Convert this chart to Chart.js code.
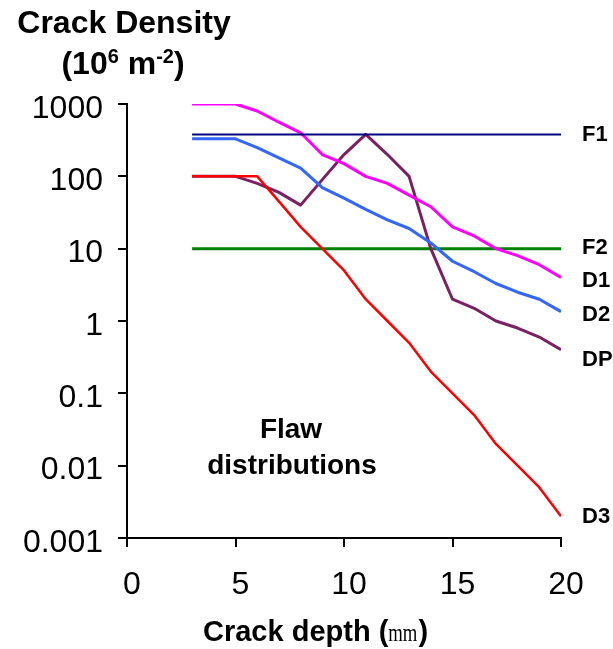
<!DOCTYPE html>
<html>
<head>
<meta charset="utf-8">
<title>Crack Density</title>
<script src="https://cdn.jsdelivr.net/npm/chart.js@4.4.1/dist/chart.umd.min.js"></script>
<style>
    html, body { margin: 0; padding: 0; background: #fff; }
    #wrap { width: 613px; height: 649px; }
</style>
</head>
<body>
<div id="wrap"><canvas id="crackChart" width="613" height="649"></canvas></div>
<script>
// Crack depth values (x) shared by all the distributions
const depths = [3, 4, 5, 6, 7, 8, 9, 10, 11, 12, 13, 14, 15, 16, 17, 18, 19, 20];

// Flaw distributions, crack density in 10^6 m^-2
const d1 = [1000, 1000, 1000, 800, 560, 400, 200, 150, 100, 80, 55, 38, 20, 15, 10, 8, 6, 4];
const d2 = [330, 330, 330, 250, 180, 130, 70, 50, 35, 25, 19, 12, 6.7, 4.8, 3.3, 2.5, 2, 1.35];
const d3 = [100, 100, 100, 100, 45, 20, 10, 5, 2, 1, 0.5, 0.2, 0.1, 0.05, 0.02, 0.01, 0.005, 0.002];
const dp = [100, 100, 100, 80, 60, 40, 90, 200, 380, 200, 100, 10, 2, 1.5, 1, 0.8, 0.6, 0.4];

// Flat reference distributions
const f1Level = 380;
const f2Level = 10;

// Axis ticks
const yTickValues = [1000, 100, 10, 1, 0.1, 0.01, 0.001];
const yTickLabels = ['1000', '100', '10', '1', '0.1', '0.01', '0.001'];
const xTickValues = [0, 5, 10, 15, 20];

const FONT = "'Liberation Sans', Arial, sans-serif";

function toPoints(values) {
    return values.map((v, i) => ({ x: depths[i], y: v }));
}

function flatLine(level) {
    return [{ x: depths[0], y: level }, { x: depths[depths.length - 1], y: level }];
}

// Draw a line of text made of pieces, some raised as superscripts
function drawRich(ctx, parts, cx, cy) {
    let total = 0;
    parts.forEach(p => {
        ctx.font = `bold ${p.size}px ${FONT}`;
        p.w = ctx.measureText(p.text).width;
        total += p.w;
    });
    let x = cx - total / 2;
    ctx.textAlign = 'left';
    ctx.textBaseline = 'alphabetic';
    parts.forEach(p => {
        ctx.font = `bold ${p.size}px ${FONT}`;
        ctx.fillText(p.text, x, cy - (p.rise || 0));
        x += p.w;
    });
}

// Titles, series names and the note, drawn straight on the canvas
const textPlugin = {
    id: 'chartTexts',
    afterDraw(chart) {
        const { ctx, scales } = chart;
        const yScale = scales.y;
        ctx.save();
        ctx.fillStyle = '#000';

        // y axis title above the axis
        ctx.font = `bold 32px ${FONT}`;
        ctx.textAlign = 'center';
        ctx.textBaseline = 'middle';
        ctx.fillText('Crack Density', 124, 24);
        drawRich(ctx, [
            { text: '(10', size: 32 },
            { text: '6', size: 20, rise: 11 },
            { text: ' m', size: 32 },
            { text: '-2', size: 20, rise: 11 },
            { text: ')', size: 32 }
        ], 123, 74);

        // x axis title, the unit is in a narrow serif face
        ctx.font = `bold 29px ${FONT}`;
        ctx.textAlign = 'left';
        ctx.textBaseline = 'alphabetic';
        const lead = 'Crack depth (';
        const leadW = ctx.measureText(lead).width;
        ctx.fillText(lead, 203, 641);
        ctx.save();
        ctx.translate(203 + leadW, 641);
        ctx.scale(0.72, 1);
        ctx.font = "26px 'Liberation Serif', serif";
        ctx.fillText('mm', 0, 0);
        const unitW = ctx.measureText('mm').width * 0.72;
        ctx.restore();
        ctx.font = `bold 29px ${FONT}`;
        ctx.fillText(')', 203 + leadW + unitW + 1, 641);

        // Note inside the plot
        ctx.textAlign = 'center';
        ctx.textBaseline = 'middle';
        ctx.font = `bold 28px ${FONT}`;
        ctx.fillText('Flaw', 291, 430);
        ctx.fillText('distributions', 292, 466);

        // Series names at the right end of each line
        ctx.font = `bold 22px ${FONT}`;
        ctx.textAlign = 'left';
        const nudge = { DP: 9, F2: -2, D1: 2, D2: 2 };
        chart.data.datasets.forEach(ds => {
            const last = ds.data[ds.data.length - 1];
            const py = yScale.getPixelForValue(last.y) + (nudge[ds.label] || 0);
            ctx.fillText(ds.label, 582, py + 1);
        });
        ctx.restore();
    }
};

const ctx = document.getElementById('crackChart').getContext('2d');

new Chart(ctx, {
    type: 'line',
    data: {
        datasets: [
            { label: 'F1', data: flatLine(f1Level), borderColor: '#000080', borderWidth: 2 },
            { label: 'D3', data: toPoints(d3), borderColor: '#FF0000', borderWidth: 2.5 },
            { label: 'D1', data: toPoints(d1), borderColor: '#FF00FF', borderWidth: 3 },
            { label: 'D2', data: toPoints(d2), borderColor: '#3366FF', borderWidth: 3 },
            { label: 'DP', data: toPoints(dp), borderColor: '#7B2163', borderWidth: 3 },
            { label: 'F2', data: flatLine(f2Level), borderColor: '#008000', borderWidth: 3 }
        ]
    },
    options: {
        responsive: false,
        animation: false,
        events: [],
        layout: { padding: { left: 0, top: 104, right: 52, bottom: 0 } },
        elements: {
            point: { radius: 0 },
            line: { tension: 0, fill: false, borderJoinStyle: 'round' }
        },
        plugins: {
            legend: { display: false },
            tooltip: { enabled: false }
        },
        scales: {
            x: {
                type: 'linear',
                min: 0,
                max: 20,
                afterBuildTicks: scale => { scale.ticks = xTickValues.map(v => ({ value: v })); },
                afterFit: scale => { scale.height = 111; },
                ticks: {
                    color: '#000',
                    font: { family: FONT, size: 32 },
                    padding: 19,
                    labelOffset: 5,
                    maxRotation: 0
                },
                grid: { display: true, drawOnChartArea: false, drawTicks: true, tickLength: 9, color: '#000', lineWidth: 2 },
                border: { display: true, color: '#000', width: 2 }
            },
            y: {
                type: 'logarithmic',
                min: 0.001,
                max: 1000,
                afterBuildTicks: scale => { scale.ticks = yTickValues.map(v => ({ value: v })); },
                afterFit: scale => { scale.width = 127; },
                ticks: {
                    color: '#000',
                    font: { family: FONT, size: 32 },
                    padding: 15,
                    labelOffset: 5,
                    autoSkip: false,
                    callback: v => yTickLabels[yTickValues.indexOf(v)]
                },
                grid: { display: true, drawOnChartArea: false, drawTicks: true, tickLength: 9, color: '#000', lineWidth: 2 },
                border: { display: true, color: '#000', width: 2 }
            }
        }
    },
    plugins: [textPlugin]
});
</script>
</body>
</html>
